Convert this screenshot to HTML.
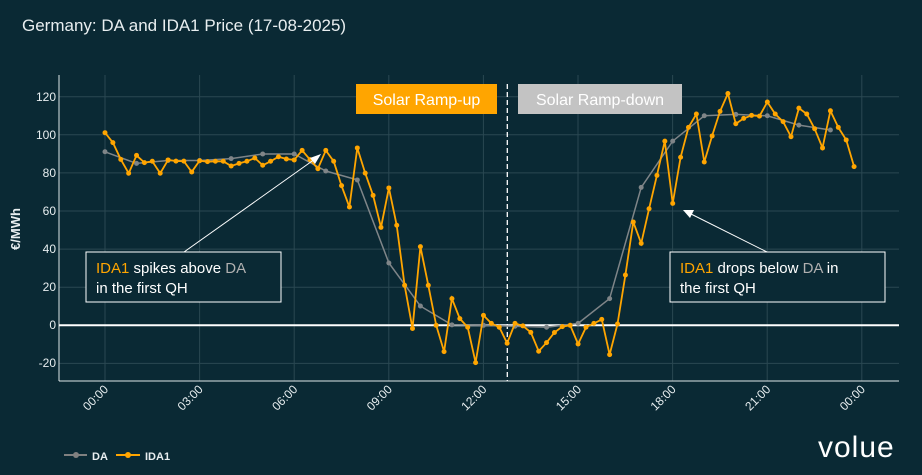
<!DOCTYPE html>
<html><head><meta charset="utf-8"><style>
html,body{margin:0;padding:0;background:#0a2934;}
svg{display:block;font-family:"Liberation Sans",sans-serif;}
</style></head><body>
<svg id="s" width="922" height="475" viewBox="0 0 922 475">
<rect width="922" height="475" fill="#0a2934"/>
<text x="22" y="31" fill="#e8eef0" font-size="17">Germany: DA and IDA1 Price (17-08-2025)</text>
<g stroke="#2a4852" stroke-width="1">
<line x1="59" x2="899" y1="96.7" y2="96.7"/><line x1="59" x2="899" y1="134.8" y2="134.8"/>
<line x1="59" x2="899" y1="172.9" y2="172.9"/><line x1="59" x2="899" y1="211" y2="211"/>
<line x1="59" x2="899" y1="249.1" y2="249.1"/><line x1="59" x2="899" y1="287.2" y2="287.2"/>
<line x1="59" x2="899" y1="363.4" y2="363.4"/>
<line x1="105" x2="105" y1="75" y2="381"/><line x1="199.6" x2="199.6" y1="75" y2="381"/>
<line x1="294.2" x2="294.2" y1="75" y2="381"/><line x1="388.8" x2="388.8" y1="75" y2="381"/>
<line x1="483.4" x2="483.4" y1="75" y2="381"/><line x1="578" x2="578" y1="75" y2="381"/>
<line x1="672.6" x2="672.6" y1="75" y2="381"/><line x1="767.2" x2="767.2" y1="75" y2="381"/>
<line x1="861.8" x2="861.8" y1="75" y2="381"/>
</g>
<line x1="59" x2="59" y1="75" y2="381" stroke="#dfe6e8" stroke-width="1"/>
<line x1="59" x2="899" y1="381" y2="381" stroke="#dfe6e8" stroke-width="1"/>
<line x1="59" x2="899" y1="325.3" y2="325.3" stroke="#ffffff" stroke-width="2"/>
<g fill="#e8eef0" font-size="12" text-anchor="end">
<text x="56" y="101">120</text><text x="56" y="139">100</text><text x="56" y="177">80</text>
<text x="56" y="215">60</text><text x="56" y="253">40</text><text x="56" y="291">20</text>
<text x="56" y="329">0</text><text x="56" y="367">-20</text>
</g>
<text transform="translate(20,229) rotate(-90)" fill="#e8eef0" font-size="13" font-weight="bold" text-anchor="middle">€/MWh</text>
<g fill="#e8eef0" font-size="12" text-anchor="end">
<text transform="translate(109,390) rotate(-45)">00:00</text>
<text transform="translate(203.6,390) rotate(-45)">03:00</text>
<text transform="translate(298.2,390) rotate(-45)">06:00</text>
<text transform="translate(392.8,390) rotate(-45)">09:00</text>
<text transform="translate(487.4,390) rotate(-45)">12:00</text>
<text transform="translate(582,390) rotate(-45)">15:00</text>
<text transform="translate(676.6,390) rotate(-45)">18:00</text>
<text transform="translate(771.2,390) rotate(-45)">21:00</text>
<text transform="translate(865.8,390) rotate(-45)">00:00</text>
</g>
<line x1="507.3" x2="507.3" y1="84" y2="381" stroke="#ffffff" stroke-width="1.3" stroke-dasharray="5,3"/>
<rect x="356" y="84" width="141" height="30" fill="#ffa500"/>
<text x="426.5" y="105" fill="#ffffff" font-size="16" text-anchor="middle">Solar Ramp-up</text>
<rect x="518" y="84" width="164" height="30" fill="#c3c3c3"/>
<text x="600" y="105" fill="#ffffff" font-size="16" text-anchor="middle">Solar Ramp-down</text>
<g id="series"></g>
<line x1="184" y1="252" x2="315" y2="159" stroke="#ffffff" stroke-width="1"/>
<polygon points="321,154 310,158 315,164" fill="#ffffff"/>
<line x1="767" y1="252" x2="689" y2="213" stroke="#ffffff" stroke-width="1"/>
<polygon points="683,210 690,218 694,210" fill="#ffffff"/>
<rect x="86" y="252" width="195" height="50" fill="#0a2934" stroke="#ffffff" stroke-width="1"/>
<text x="96" y="273" font-size="15" fill="#ffffff"><tspan fill="#ffa500">IDA1</tspan> spikes above <tspan fill="#b0b0b0">DA</tspan></text>
<text x="96" y="293" font-size="15" fill="#ffffff">in the first QH</text>
<rect x="670" y="252" width="215" height="50" fill="#0a2934" stroke="#ffffff" stroke-width="1"/>
<text x="680" y="273" font-size="15" fill="#ffffff"><tspan fill="#ffa500">IDA1</tspan> drops below <tspan fill="#b0b0b0">DA</tspan> in</text>
<text x="680" y="293" font-size="15" fill="#ffffff">the first QH</text>
<line x1="64" x2="87" y1="455" y2="455" stroke="#808080" stroke-width="2"/><circle cx="76" cy="455" r="3" fill="#808080"/>
<text x="92" y="460" fill="#e8eef0" font-size="11" font-weight="bold">DA</text>
<line x1="116" x2="140" y1="455" y2="455" stroke="#ffa500" stroke-width="2"/><circle cx="128" cy="455" r="3" fill="#ffa500"/>
<text x="145" y="460" fill="#e8eef0" font-size="11" font-weight="bold">IDA1</text>
<text x="818" y="457" fill="#ffffff" font-size="30" letter-spacing="1">volue</text>
</svg>
<script>
var ida=[101.1,95.9,87.1,79.8,89.2,85.4,86.1,79.8,86.8,86.2,86.2,80.5,86.4,85.9,86.1,86.1,83.6,85,86.1,87.8,84,86.1,88.5,87.3,86.8,91.8,87,82.2,91.8,86.1,73.3,62.1,93.1,79.9,68.2,51.4,72.1,52.5,21,-1.7,41.3,21,0,-13.8,14,3.5,-1,-19.6,5.2,1,-1,-9.4,1,-0.3,-3.7,-13.6,-9.1,-3.8,-0.7,0,-9.8,-1,1,3.1,-15.4,0.7,26.4,54.2,43,61.2,78.7,96.7,64,88.2,103.9,110.9,85.7,99.4,112.3,121.7,105.8,108.6,110.2,109.8,117.2,110.9,106.9,99,114,110.9,103.2,93.1,112.6,103.9,97.3,83.3];
var da=[91.1,85,86.5,86.5,87.5,89.9,89.9,81,76.3,32.7,10.1,0.2,0,-0.5,-1,1,14,72.4,96.7,110,110.7,110,105.1,102.5];
function X(q){return 105+q*7.885;}function Y(v){return 325.3-v*1.905;}
var ns="http://www.w3.org/2000/svg",g=document.getElementById("series");
function draw(arr,step,col,w,r){var p=arr.map(function(v,i){return X(i*step).toFixed(1)+","+Y(v).toFixed(1)}).join(" ");
var pl=document.createElementNS(ns,"polyline");pl.setAttribute("points",p);pl.setAttribute("fill","none");pl.setAttribute("stroke",col);pl.setAttribute("stroke-width",w);g.appendChild(pl);
arr.forEach(function(v,i){var c=document.createElementNS(ns,"circle");c.setAttribute("cx",X(i*step));c.setAttribute("cy",Y(v));c.setAttribute("r",r);c.setAttribute("fill",col);g.appendChild(c);});}
draw(da,4,"#7f8588",1.5,2.5);draw(ida,1,"#ffa500",1.8,2.5);
</script>
</body></html>
